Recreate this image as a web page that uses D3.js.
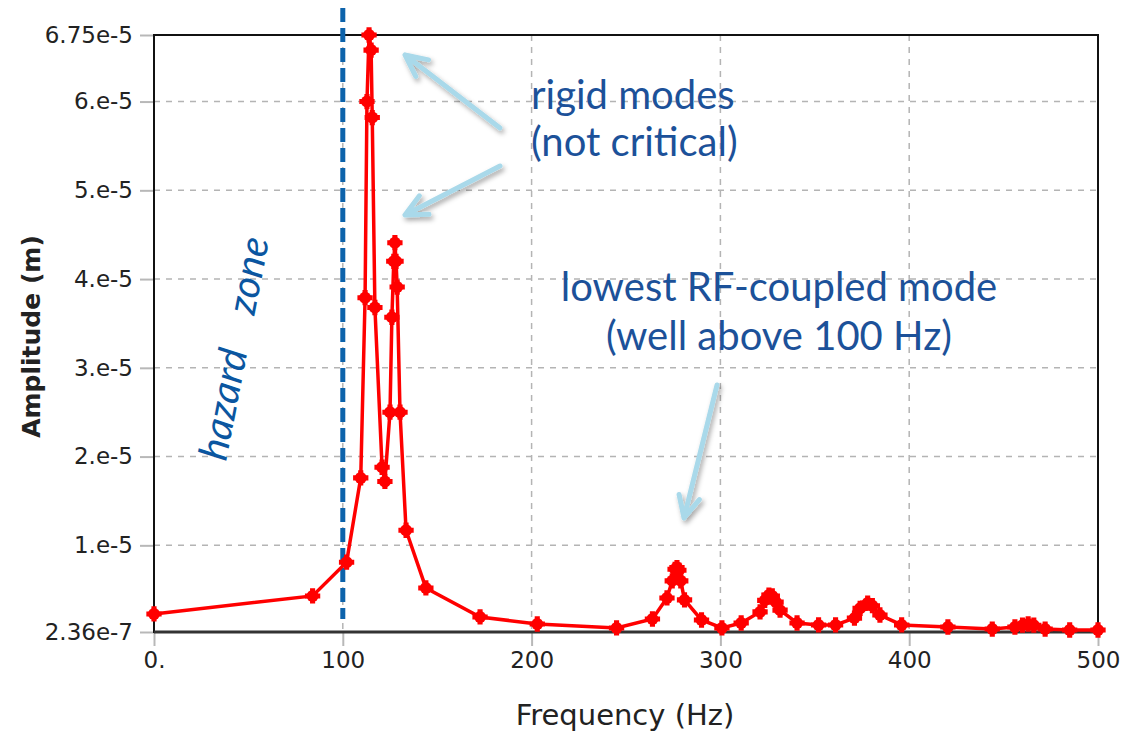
<!DOCTYPE html>
<html>
<head>
<meta charset="utf-8">
<script src="https://cdn.jsdelivr.net/npm/d3@7"></script>
<style>
  body { margin: 0; background: #fff; }
  svg { display: block; }
</style>
</head>
<body>
<div id="chart"></div>
<script>
// data
const freq = [0, 84, 102, 109.5, 111.8, 112.8, 113.9, 115, 115.6, 117, 120.8, 122.3,
  125, 126, 127, 127.6, 128.2, 128.8, 130.3, 133.5, 144, 172.7, 203, 245,
  264, 271.7, 274.5, 276, 277, 278, 279, 281, 290, 300.8, 311, 321, 323.5,
  325.7, 327.5, 329.5, 331.6, 340.6, 352, 361, 371, 374, 378, 380.5, 384.5,
  396, 420.5, 444, 456, 460, 463, 466, 472, 485, 500];
const amp = [2.27e-6, 4.3e-6, 8.1e-6, 1.76e-5, 3.79e-5, 6.0e-5, 6.75e-5, 6.58e-5, 5.82e-5, 3.68e-5, 1.88e-5, 1.72e-5,
  2.5e-5, 3.57e-5, 4.2e-5, 4.41e-5, 4.2e-5, 3.91e-5, 2.5e-5, 1.17e-5, 5.2e-6, 1.93e-6, 1.14e-6, 6.9e-7,
  1.7e-6, 4.07e-6, 6.0e-6, 7.3e-6, 7.5e-6, 7.2e-6, 6.0e-6, 3.85e-6, 1.59e-6, 6.9e-7, 1.25e-6, 2.5e-6, 3.8e-6,
  4.4e-6, 4.3e-6, 3.6e-6, 2.7e-6, 1.25e-6, 1.03e-6, 1.03e-6, 1.8e-6, 2.9e-6, 3.5e-6, 3.2e-6, 2.15e-6,
  1.03e-6, 8e-7, 5.7e-7, 8e-7, 1.0e-6, 1.14e-6, 1.0e-6, 5.7e-7, 4.6e-7, 4.6e-7];

const xTicks = [0, 100, 200, 300, 400, 500];
const xTickLabels = ["0.", "100", "200", "300", "400", "500"];
const yTicks = [2.36e-7, 1e-5, 2e-5, 3e-5, 4e-5, 5e-5, 6e-5, 6.75e-5];
const yTickLabels = ["2.36e-7", "1.e-5", "2.e-5", "3.e-5", "4.e-5", "5.e-5", "6.e-5", "6.75e-5"];

const hazardFreq = 100;

const W = 1130, H = 734;
const margin = { top: 35, right: 32, bottom: 102, left: 154 };
const width = W - margin.left - margin.right;
const height = H - margin.top - margin.bottom;

const svg = d3.select("#chart").append("svg")
  .attr("width", W).attr("height", H);

const defs = svg.append("defs");
const shadow = defs.append("filter").attr("id", "shadow")
  .attr("x", "-50%").attr("y", "-50%").attr("width", "200%").attr("height", "200%");
shadow.append("feDropShadow").attr("dx", 2).attr("dy", 3).attr("stdDeviation", 2.5)
  .attr("flood-color", "#000").attr("flood-opacity", 0.35);

const g = svg.append("g").attr("transform", `translate(${margin.left},${margin.top})`);

const x = d3.scaleLinear().domain([0, 500]).range([0, width]);
const y = d3.scaleLinear().domain([2.36e-7, 6.75e-5]).range([height, 0]);

// grid
g.append("g").selectAll("line").data(yTicks.slice(1, -1)).join("line")
  .attr("x1", 0).attr("x2", width)
  .attr("y1", d => y(d)).attr("y2", d => y(d))
  .attr("stroke", "#b4b4b4").attr("stroke-width", 1.5).attr("stroke-dasharray", "6,6");
g.append("g").selectAll("line").data(xTicks.slice(1, -1)).join("line")
  .attr("x1", d => x(d)).attr("x2", d => x(d))
  .attr("y1", 0).attr("y2", height)
  .attr("stroke", "#b4b4b4").attr("stroke-width", 1.5).attr("stroke-dasharray", "6,6");

// axes
const yAxis = d3.axisLeft(y).tickValues(yTicks).tickSize(14).tickPadding(7)
  .tickFormat((d, i) => yTickLabels[i]);
const xAxis = d3.axisBottom(x).tickValues(xTicks).tickSize(14).tickPadding(6)
  .tickFormat((d, i) => xTickLabels[i]);

const gy = g.append("g").call(yAxis);
const gx = g.append("g").attr("transform", `translate(0,${height})`).call(xAxis);
[gx, gy].forEach(a => {
  a.attr("font-size", null).attr("font-family", null);
  a.select(".domain").remove();
  a.selectAll(".tick line").attr("stroke", "#b8b8b8").attr("stroke-width", 2);
  a.selectAll(".tick text").attr("fill", "#222")
    .style("font-family", "'DejaVu Sans', sans-serif").style("font-size", "23px");
});

// frame
g.append("rect").attr("width", width).attr("height", height)
  .attr("fill", "none").attr("stroke", "#111").attr("stroke-width", 2);
g.append("line").attr("x1", 0).attr("x2", width).attr("y1", height).attr("y2", height)
  .attr("stroke", "#333").attr("stroke-width", 3);

// axis titles
svg.append("text")
  .attr("transform", `translate(40,${margin.top + height / 2 + 3}) rotate(-90)`)
  .attr("text-anchor", "middle")
  .style("font-family", "'DejaVu Sans', sans-serif").style("font-size", "25px")
  .style("font-weight", "bold").attr("fill", "#222")
  .text("Amplitude (m)");
svg.append("text")
  .attr("x", 625).attr("y", 725)
  .attr("text-anchor", "middle")
  .style("font-family", "'DejaVu Sans', sans-serif").style("font-size", "29px")
  .attr("fill", "#222")
  .text("Frequency (Hz)");

// hazard line
g.append("line")
  .attr("x1", x(hazardFreq)).attr("x2", x(hazardFreq))
  .attr("y1", -27).attr("y2", height - 13)
  .attr("stroke", "#0d63ab").attr("stroke-width", 5).attr("stroke-dasharray", "14,6");

// response curve
const pts = freq.map((f, i) => [f, amp[i]]);
g.append("path").datum(pts)
  .attr("fill", "none").attr("stroke", "#ff0000").attr("stroke-width", 3.5)
  .attr("d", d3.line().x(d => x(d[0])).y(d => y(d[1])));

const mk = g.append("g").selectAll("g").data(pts).join("g")
  .attr("transform", d => `translate(${x(d[0])},${y(d[1])})`)
  .attr("fill", "#ff0000");
mk.append("circle").attr("r", 6);
mk.append("path").attr("d", d3.symbol(d3.symbolCross, 130));

// annotations
const blue = "#1c5199";
const ann = svg.append("g").attr("fill", blue)
  .style("font-family", "Lato, 'Open Sans', sans-serif").style("font-size", "40px");
ann.append("text").attr("x", 531).attr("y", 109).text("rigid modes");
ann.append("text").attr("x", 531).attr("y", 156).text("(not critical)");
ann.append("text").attr("x", 779).attr("y", 301).attr("text-anchor", "middle").text("lowest RF-coupled mode");
ann.append("text").attr("x", 779).attr("y", 350).attr("text-anchor", "middle").text("(well above 100 Hz)");

const hz = svg.append("text").attr("fill", "#0b56a0")
  .attr("transform", "translate(226,462) rotate(-79)")
  .style("font-family", "Lato, 'Open Sans', sans-serif").style("font-size", "40px")
  .style("font-style", "italic");
hz.append("tspan").text("hazard");
hz.append("tspan").attr("dx", 36).text("zone");

// arrows
const arrows = [
  [[500, 128], [405, 55]],
  [[500, 166], [405, 215]],
  [[717, 385], [684, 518]]
];
const ag = svg.append("g").attr("filter", "url(#shadow)")
  .attr("stroke", "#a9d9ea").attr("stroke-width", 5).attr("fill", "none")
  .attr("stroke-linecap", "round");
arrows.forEach(([a, b]) => {
  const ang = Math.atan2(a[1] - b[1], a[0] - b[0]);
  const L = 24, s = 0.45;
  const p1 = [b[0] + L * Math.cos(ang + s), b[1] + L * Math.sin(ang + s)];
  const p2 = [b[0] + L * Math.cos(ang - s), b[1] + L * Math.sin(ang - s)];
  ag.append("path").attr("d", `M${a}L${b}M${p1}L${b}L${p2}`).attr("stroke-linejoin", "round");
});
</script>
</body>
</html>
